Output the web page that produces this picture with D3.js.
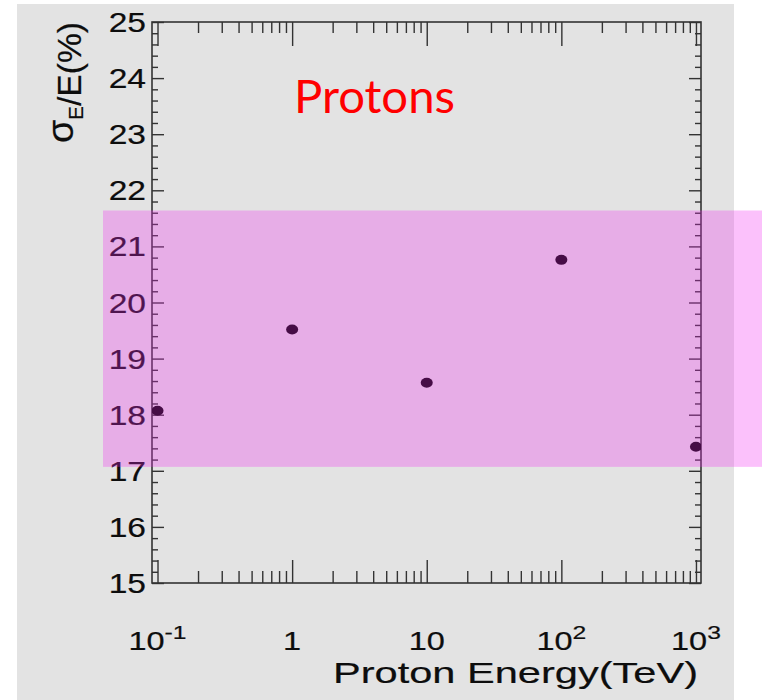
<!DOCTYPE html>
<html>
<head>
<meta charset="utf-8">
<script src="https://cdn.jsdelivr.net/npm/d3@7/dist/d3.min.js"></script>
<style>
  html, body { margin: 0; padding: 0; background: #ffffff; }
  svg { display: block; }
</style>
</head>
<body>
<svg id="chart" width="762" height="700"></svg>
<script>
// Energy resolution for protons vs. beam energy
const energies = [0.1, 1, 10, 100, 1000];          // TeV
const resolution = [18.07, 19.52, 18.57, 20.76, 17.43]; // sigma_E/E in %

const xDomain = [0.091, 1090];
const yDomain = [15, 25];

const xTickValues = [0.1, 1, 10, 100, 1000];
const xTickBase = ["10", "1", "10", "10", "10"];
const xTickExp = ["-1", "", "", "2", "3"];
const yTickValues = [15, 16, 17, 18, 19, 20, 21, 22, 23, 24, 25];

// Highlighted resolution band
const bandRange = [17.07, 21.64];

const svg = d3.select("#chart");

// Canvas background
svg.append("rect").attr("x", 17).attr("y", 4).attr("width", 717).attr("height", 696)
  .attr("fill", "#e3e3e3");

const plotL = 152, plotR = 701, plotT = 22, plotB = 583;
const x = d3.scaleLog().domain(xDomain).range([plotL, plotR]);
const y = d3.scaleLinear().domain(yDomain).range([plotB, plotT]);

const frameColor = "#333333";
const textColor = "#0d0d0d";
const font = "Liberation Sans, Arial, sans-serif";
const textStroke = 0.2;

// Minor tick positions
const xMinor = [];
for (let e = -2; e <= 3; e++) {
  for (let m = 2; m <= 9; m++) {
    const v = m * Math.pow(10, e);
    if (v > xDomain[0] && v < xDomain[1]) xMinor.push(v);
  }
}
const yMinor = d3.range(150, 251, 2).map(d => d / 10).filter(v => !yTickValues.includes(v));

function styleAxis(g) {
  g.select(".domain").remove();
  g.selectAll("line").attr("stroke", frameColor).attr("stroke-width", 1.4);
  g.selectAll("text").remove();
}

// Bottom and top axes (ticks pointing inward)
svg.append("g").attr("transform", `translate(0,${plotB})`)
  .call(d3.axisBottom(x).tickValues(xTickValues).tickSize(-23).tickFormat("")).call(styleAxis);
svg.append("g").attr("transform", `translate(0,${plotB})`)
  .call(d3.axisBottom(x).tickValues(xMinor).tickSize(-12).tickFormat("")).call(styleAxis);
svg.append("g").attr("transform", `translate(0,${plotT})`)
  .call(d3.axisTop(x).tickValues(xTickValues).tickSize(-24).tickFormat("")).call(styleAxis);
svg.append("g").attr("transform", `translate(0,${plotT})`)
  .call(d3.axisTop(x).tickValues(xMinor).tickSize(-11).tickFormat("")).call(styleAxis);

// Left and right axes
svg.append("g").attr("transform", `translate(${plotL},0)`)
  .call(d3.axisLeft(y).tickValues(yTickValues).tickSize(-12).tickFormat("")).call(styleAxis);
svg.append("g").attr("transform", `translate(${plotL},0)`)
  .call(d3.axisLeft(y).tickValues(yMinor).tickSize(-6).tickFormat("")).call(styleAxis);
svg.append("g").attr("transform", `translate(${plotR},0)`)
  .call(d3.axisRight(y).tickValues(yTickValues).tickSize(-12).tickFormat("")).call(styleAxis);
svg.append("g").attr("transform", `translate(${plotR},0)`)
  .call(d3.axisRight(y).tickValues(yMinor).tickSize(-6).tickFormat("")).call(styleAxis);

// Frame
svg.append("rect").attr("x", plotL).attr("y", plotT)
  .attr("width", plotR - plotL).attr("height", plotB - plotT)
  .attr("fill", "none").attr("stroke", frameColor).attr("stroke-width", 1.6);

// Y tick labels
svg.append("g").selectAll("text").data(yTickValues).join("text")
  .attr("transform", d => `translate(146,${y(d) + 10}) scale(1.2,1)`)
  .attr("text-anchor", "end")
  .attr("font-family", font)
  .attr("font-size", 28)
  .attr("fill", textColor).attr("stroke", textColor).attr("stroke-width", textStroke)
  .text(d => d);

// X tick labels with exponents
const xl = svg.append("g").selectAll("text").data(xTickValues).join("text")
  .attr("transform", d => `translate(${x(d)},650) scale(1.3,1)`)
  .attr("text-anchor", "middle")
  .attr("font-family", font)
  .attr("font-size", 25)
  .attr("fill", textColor).attr("stroke", textColor).attr("stroke-width", textStroke);
xl.append("tspan").text((d, i) => xTickBase[i]);
xl.append("tspan").attr("font-size", 19).attr("dy", -11).attr("dx", 0)
  .text((d, i) => xTickExp[i]);

// Axis titles
svg.append("text")
  .attr("x", 698).attr("y", 683)
  .attr("text-anchor", "end")
  .attr("font-family", font)
  .attr("font-size", 30)
  .attr("textLength", 365).attr("lengthAdjust", "spacingAndGlyphs")
  .attr("fill", textColor).attr("stroke", textColor).attr("stroke-width", textStroke)
  .text("Proton Energy(TeV)");

const yt = svg.append("text")
  .attr("transform", "translate(81,143) rotate(-90)")
  .attr("font-family", font)
  .attr("font-size", 33)
  .attr("textLength", 121).attr("lengthAdjust", "spacingAndGlyphs")
  .attr("fill", textColor).attr("stroke", textColor).attr("stroke-width", textStroke);
yt.append("tspan").attr("font-size", 37).attr("dy", -8).text("σ");
yt.append("tspan").attr("font-size", 20).attr("dy", 10).text("E");
yt.append("tspan").attr("dy", -2).text("/E(%)");

// Data points
svg.append("clipPath").attr("id", "plotClip")
  .append("rect").attr("x", plotL).attr("y", plotT).attr("width", plotR - plotL).attr("height", plotB - plotT);
svg.append("g").attr("clip-path", "url(#plotClip)")
  .selectAll("ellipse").data(energies).join("ellipse")
  .attr("cx", d => x(d))
  .attr("cy", (d, i) => y(resolution[i]))
  .attr("rx", 6).attr("ry", 5)
  .attr("fill", "#000000");

// Label
svg.append("text")
  .attr("x", 294).attr("y", 113)
  .attr("font-family", "Lato, 'Open Sans', sans-serif")
  .attr("font-size", 46)
  .attr("textLength", 161).attr("lengthAdjust", "spacingAndGlyphs")
  .attr("fill", "#ff0000")
  .text("Protons");

// Translucent highlight band
svg.append("rect")
  .attr("x", 103).attr("width", 762 - 103)
  .attr("y", y(bandRange[1]))
  .attr("height", y(bandRange[0]) - y(bandRange[1]))
  .attr("fill", "rgb(240,40,240)")
  .attr("fill-opacity", 0.29);
</script>
</body>
</html>
